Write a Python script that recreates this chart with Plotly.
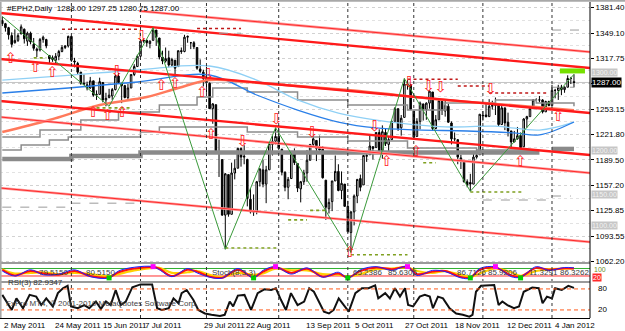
import plotly.graph_objects as go
import pandas as pd

# ---------------- data ----------------
DATES = [d for d in pd.bdate_range("2011-05-02", "2012-01-12") if d != pd.Timestamp("2012-01-02")]

OPEN = [
    1365,1361,1356,1346,1337,1340,1348,1354,1339,1349,1335,1327,1328,1341,1341,1321,1318,1315,1320,1326,1331,1333,  # May
    1345,1314,1311,1300,1286,1284,1280,1289,1271,1272,1287,1265,1268,1270,1278,1295,1286,1283,1268,1280,1297,1307,  # Jun
    1320,1339,1340,1336,1340,1353,1343,1319,1314,1318,1309,1315,1307,1327,1326,1344,1337,1337,1331,1304,1300,       # Jul
    1292,1286,1254,1259,1200,1190,1120,1171,1121,1173,1179,1204,1193,1190,1140,1124,1124,1162,1177,1159,1177,1209,1213,  # Aug
    1219,1203,1174,1155,1166,1197,1185,1153,1162,1173,1189,1209,1214,1204,1203,1164,1128,1137,1163,1175,1151,1159,  # Sep
    1131,1098,1124,1144,1166,1158,1194,1196,1206,1205,1224,1200,1224,1209,1215,1238,1254,1230,1243,1284,1284,       # Oct
    1251,1219,1238,1260,1253,1261,1275,1229,1240,1263,1251,1257,1236,1216,1215,1192,1187,1162,1161,1159,1193,1196,  # Nov
    1246,1246,1244,1257,1258,1260,1234,1255,1237,1226,1212,1216,1220,1206,1241,1244,1254,1265,1265,1265,1250,1263,  # Dec
    1258,1277,1277,1281,1278,1281,1292,1288.00]                                                                     # Jan
HIGH = [
    1370,1362,1357,1350,1354,1349,1360,1355,1351,1351,1343,1331,1343,1346,1342,1321,1321,1324,1328,1334,1334,1346,
    1346,1318,1313,1300,1297,1288,1294,1289,1277,1293,1287,1274,1279,1280,1297,1299,1286,1284,1285,1297,1310,1322,
    1341,1342,1341,1340,1356,1353,1343,1327,1331,1327,1318,1315,1327,1331,1347,1346,1338,1339,1331,1316,1303,
    1307,1287,1261,1259,1215,1190,1173,1171,1186,1190,1205,1205,1208,1191,1154,1146,1163,1179,1190,1182,1211,1220,1230,
    1230,1203,1175,1168,1198,1204,1185,1163,1177,1202,1209,1220,1214,1220,1207,1164,1141,1163,1195,1184,1175,1159,
    1138,1125,1146,1165,1171,1195,1200,1220,1207,1224,1228,1233,1229,1219,1239,1256,1254,1246,1292,1290,1284,
    1251,1242,1263,1260,1262,1277,1275,1246,1267,1264,1264,1260,1238,1224,1215,1196,1187,1165,1172,1197,1203,1247,
    1251,1261,1266,1264,1268,1260,1258,1255,1249,1226,1226,1231,1224,1242,1245,1256,1266,1267,1270,1266,1264,1264,
    1284,1279,1284,1284,1282,1296,1294,1297.25]
LOW = [
    1358,1351,1341,1331,1336,1338,1348,1336,1333,1335,1327,1319,1326,1337,1330,1311,1313,1310,1315,1325,1329,1331,
    1313,1306,1297,1284,1284,1277,1279,1269,1265,1272,1262,1257,1267,1265,1277,1287,1261,1267,1265,1280,1295,1307,
    1318,1337,1332,1330,1340,1333,1316,1310,1312,1306,1307,1295,1307,1323,1325,1337,1329,1329,1303,1299,1282,
    1274,1254,1235,1199,1168,1119,1077,1118,1121,1165,1179,1181,1184,1131,1122,1119,1121,1156,1155,1135,1177,1195,1209,
    1203,1170,1150,1140,1166,1183,1149,1136,1158,1162,1189,1207,1188,1201,1166,1114,1122,1125,1163,1150,1140,1131,
    1098,1073,1107,1135,1150,1158,1187,1196,1190,1205,1198,1191,1207,1197,1215,1238,1226,1220,1243,1278,1253,
    1215,1219,1228,1239,1240,1254,1226,1228,1240,1246,1244,1236,1209,1213,1184,1178,1161,1155,1150,1159,1191,1196,
    1239,1243,1244,1253,1246,1231,1234,1227,1219,1205,1212,1215,1203,1206,1230,1244,1254,1263,1262,1248,1250,1257,
    1258,1267,1265,1271,1274,1281,1285,1280.75]
CLOSE = [
    1361,1356,1347,1335,1340,1346,1357,1342,1349,1338,1330,1329,1341,1344,1333,1317,1316,1320,1326,1331,1333,1345,
    1315,1313,1300,1286,1285,1280,1289,1271,1272,1288,1265,1267,1271,1278,1295,1287,1283,1268,1280,1297,1307,1320,
    1339,1340,1337,1339,1353,1344,1319,1314,1317,1309,1316,1305,1327,1326,1344,1345,1337,1332,1305,1301,1292,
    1287,1254,1260,1200,1199,1120,1172,1121,1173,1179,1204,1193,1194,1141,1124,1124,1162,1178,1159,1177,1210,1213,1219,
    1204,1174,1155,1165,1198,1186,1154,1162,1173,1189,1209,1216,1204,1202,1167,1130,1136,1163,1175,1151,1160,1131,
    1099,1124,1144,1165,1155,1195,1195,1207,1204,1224,1201,1225,1210,1215,1238,1254,1229,1242,1285,1285,1253,
    1218,1238,1261,1253,1261,1276,1229,1240,1264,1252,1258,1237,1216,1216,1193,1188,1162,1158,1159,1193,1195,1247,
    1245,1244,1257,1258,1261,1234,1255,1236,1226,1212,1216,1220,1205,1241,1244,1254,1265,1265,1265,1250,1263,1258,
    1277,1277,1281,1278,1281,1292,1292,1287.00]
BARS = list(range(len(DATES)))

# price scale labels
PRICE_TICKS = [1381.40, 1349.10, 1317.75, 1285.45, 1253.15, 1221.80, 1189.50, 1157.20, 1125.85, 1093.55, 1062.20]
BOXED_LEVELS = [1300.00, 1200.00, 1150.00, 1100.00]
BOXED_SHIFT = [0, 1, -3, 5]   # small pixel nudges so the boxes do not sit on the scale labels

# date labels (bar position of the label's left edge)
DATE_LABELS = ["2 May 2011", "24 May 2011", "15 Jun 2011", "7 Jul 2011", "29 Jul 2011", "22 Aug 2011",
               "13 Sep 2011", "5 Oct 2011", "27 Oct 2011", "18 Nov 2011", "12 Dec 2011", "4 Jan 2012"]
DATE_LABEL_POS = [-0.1, 16, 31.5, 44.7, 63.7, 76.9, 95.9, 111.7, 127.7, 143.5, 159.9, 175.4]

# trend lines (bar, price) -> (bar, price)
TL_X0 = [-0.7, 43.5, -0.7, -0.7, -0.7, -0.7]
TL_P0 = [1374.5, 1377.0, 1316.6, 1263.7, 1243.5, 1154.1]
TL_X1 = [187.1, 187.1, 187.1, 187.1, 187.1, 187.1]
TL_P1 = [1305.2, 1325.4, 1248.6, 1195.7, 1173.0, 1086.1]
TL_STYLE = ["thick", "thin", "thick", "thick", "thin", "thin"]

# moving averages
ORANGE_X = [0, 15, 31, 46, 56, 66, 78, 94, 110, 126, 141, 157, 170, 182]
ORANGE_P = [1224.6, 1239.7, 1258.6, 1268.7, 1280.0, 1290.1, 1287.6, 1282.5, 1277.5, 1271.0, 1265.0, 1260.0, 1256.0, 1252.0]
BLUE_X = [0, 21, 43, 66, 81, 94, 107, 119, 132, 148, 163, 171, 182]
BLUE_P = [1273.7, 1280.0, 1287.6, 1296.4, 1271.2, 1252.3, 1237.2, 1229.7, 1227.2, 1225.9, 1223.4, 1220.9, 1237.2]
LBLUE_X = [0, 21, 43, 66, 81, 94, 107, 126, 141, 157, 171, 182]
LBLUE_P = [1290.0, 1296.0, 1302.7, 1307.7, 1290.0, 1265.0, 1248.5, 1236.0, 1231.0, 1232.0, 1227.0, 1237.0]
G1_X = [0, 12, 25, 37, 50, 62, 67, 78, 94, 110, 129, 141, 157, 170, 182]
G1_P = [1218.2, 1227.0, 1239.7, 1249.8, 1258.6, 1268.7, 1280.0, 1275.0, 1265.0, 1258.6, 1252.3, 1261.1, 1265.0, 1261.1, 1257.0]
G2_X = [0, 6, 15, 21, 44, 50, 66, 78, 94, 110, 129, 151, 170]
G2_P = [1202.0, 1208.3, 1214.6, 1218.3, 1224.6, 1231.0, 1231.0, 1224.6, 1218.3, 1213.3, 1204.5, 1202.0, 1202.0]
THICK_X = [0, 22, 44, 171, None, 175, 182]
THICK_P = [1190.6, 1194.4, 1198.8, 1198.8, None, 1203.3, 1203.3]

# horizontal level segments
LV_X0 = [19, 62, 129, 145, 155, 175, 0, 22, 153, 175, 69, 175, 71, 91, 98, 111, 149, 134, 30, 10, 177.5]
LV_X1 = [44, 76, 145, 155, 174, 186, 22, 44, 175, 181, 76, 182, 88, 97, 103, 129, 166, 138, 41, 14, 185.5]
LV_P = [1354, 1355, 1291, 1282.5, 1273.7, 1353, 1130, 1135, 1139, 1144, 1349, 1281,
        1078.5, 1114, 1126, 1070, 1149, 1186, 1255, 1318, 1301.5]
LV_KIND = ["red"] * 5 + ["gray"] * 7 + ["green"] * 8 + ["lime"]

# fractal arrows
UP_X = [2.7, 10.6, 16, 29.0, 33.6, 38.2, 50.7, 55.1, 63.7, 66.5, 110.7, 122.4, 131.8, 165, 177]
UP_P = [1316.6, 1305.2, 1298.9, 1248.6, 1244.8, 1248.6, 1282.5, 1285.1, 1273.7, 1220.9, 1072.3, 1186.9, 1199.5, 1186.9, 1243.6]
DN_X = [36.5, 44.4, 65.6, 76.6, 87.3, 98.7, 118.6, 129.6, 135.8, 139.6, 155.5]
DN_P = [1300.2, 1344.3, 1296.4, 1212, 1239.7, 1223.4, 1231, 1286.3, 1281.3, 1280, 1277.5]

# zigzag pivots
ZZ_X = [0, 34, 48, 71, 87, 111, 128, 149, 182]
ZZ_P = [1370, 1257, 1356, 1077, 1230, 1073, 1292, 1150, 1297.25]

# stochastic panel
ST_X = [0, 4, 9, 13, 18, 23, 28, 34, 37, 42, 48, 50, 54, 59, 62, 66, 70, 75, 80, 83, 87, 92, 97, 102, 107, 110,
        114, 119, 124, 129, 132, 137, 141, 146, 149, 152, 157, 162, 165, 170, 174, 179, 182]
ST_RED = [70, 25, 60, 40, 30, 60, 20, 10, 50, 80, 92, 78, 20, 70, 55, 15, 5, 70, 12, 55, 90, 45, 78, 15, 40, 8,
          60, 88, 75, 93, 35, 55, 60, 12, 8, 70, 88, 25, 15, 85, 70, 82, 80]
ST_YEL = [75, 40, 45, 50, 35, 45, 35, 18, 35, 65, 85, 85, 45, 50, 60, 30, 12, 45, 30, 40, 78, 65, 65, 35, 30, 15,
          35, 75, 80, 88, 60, 45, 58, 30, 12, 40, 80, 50, 22, 60, 75, 78, 80]
ST_BLUE = [60, 20, 70, 30, 35, 70, 15, 5, 60, 90, 95, 70, 15, 80, 45, 10, 3, 80, 5, 65, 95, 35, 85, 10, 50, 3,
           70, 95, 65, 97, 25, 65, 55, 5, 3, 80, 92, 15, 10, 95, 65, 88, 85]
ST_MAG_X = [48, 87, 129, 157]
ST_GRN_X = [34, 80, 110, 149, 165]
ST_TEXT_X = [11, 26, 66, 111, 122, 144, 154, 167, 177]
ST_TEXT = ["79.5150", "80.5150", "Stoch(8,3,3)", "65.2386", "85.6305", "86.7126", "85.9206", "11.3291", "86.3262"]

# RSI(3)
RSI_X = [0, 3, 4.5, 6.6, 8.7, 10.8, 12.4, 14, 16.1, 17.7, 19.3, 20.8, 21.9, 24, 26.1, 27.7, 29.8, 31.4, 33, 34.5,
         36.1, 37.7, 39.3, 41.4, 44, 47.7, 49.3, 50.8, 53, 54.5, 56.1, 57.1, 58.7, 60.8, 62.4, 64.5, 66.6, 69.3,
         70.8, 72.4, 73.5, 75, 77.1, 79.2, 81.3, 83.4, 85.6, 87.1, 88.7, 90.3, 91.9, 94, 96.1, 97.7, 99.2,
         100.3, 102.4, 104, 105.5, 107.1, 108.7, 110.3, 112.4, 114.5, 116.6, 118.7, 119.7, 121.9, 123.4, 125,
         126.6, 128.2, 129.2, 130.8, 132.9, 134.5, 136.1, 137.1, 138.7, 140.3, 142.4, 144.5, 146.6, 148.7, 149.7,
         150.8, 152.4, 154.5, 156.6, 158, 159.2, 160.8, 162.9, 164.5, 166, 168.7, 170.8, 172, 173.4, 175, 176,
         178.1, 180.2, 182]
RSI_V = [63, 20, 53, 25, 63, 58, 34, 53, 30, 68, 82, 89, 30, 25, 34, 25, 44, 23, 44, 34,
         77, 34, 44, 85, 93, 93, 25, 20, 25, 53, 39, 68, 77, 49, 20, 10, 6, 3,
         6, 44, 30, 61, 63, 20, 68, 79, 77, 82, 49, 20, 68, 34, 44, 82, 72,
         53, 15, 10, 20, 53, 34, 15, 68, 82, 82, 90, 53, 68, 53, 82,
         58, 82, 34, 30, 58, 63, 58, 25, 58, 53, 25, 10, 6, 1, 6,
         72, 89, 90, 91, 34, 44, 34, 25, 30, 72, 84, 82, 39, 58, 53, 82,
         77, 89, 83]
RSI_LEVELS = [80, 20]
RSI_LAST = 82.9347

TITLE = "#EPH2,Daily  %.2f %.2f %.2f %.2f" % (OPEN[-1], HIGH[-1], LOW[-1], CLOSE[-1])
COPYRIGHT = "FxPro MT4, © 2001-2010 MetaQuotes Software Corp."

# ---------------- figure ----------------
FONT = "Liberation Sans, Arial, sans-serif"
fig = go.Figure()

fig.add_trace(go.Candlestick(
    x=BARS, open=OPEN, high=HIGH, low=LOW, close=CLOSE,
    increasing=dict(line=dict(color="black", width=1), fillcolor="white"),
    decreasing=dict(line=dict(color="black", width=1), fillcolor="black"),
    whiskerwidth=0, hoverinfo="skip", xaxis="x", yaxis="y"))

def line(x, y, color, width, shape="linear", dash="solid", yaxis="y"):
    fig.add_trace(go.Scatter(x=x, y=y, mode="lines", hoverinfo="skip", connectgaps=False,
                             line=dict(color=color, width=width, shape=shape, dash=dash),
                             xaxis="x", yaxis=yaxis))

# moving averages
line(G2_X, G2_P, "#8c8c8c", 1.5, "hv")
line(G1_X, G1_P, "#8c8c8c", 1.5, "hv")
line(THICK_X, THICK_P, "#8a8a8a", 4.5, "hv")
line(LBLUE_X, LBLUE_P, "#8fd0f5", 1.3, "spline")
line(BLUE_X, BLUE_P, "#2a7fe8", 1.3, "spline")
line(ORANGE_X, ORANGE_P, "#ff7a5c", 2.5, "spline")

# trend lines
for x0, p0, x1, p1, st in zip(TL_X0, TL_P0, TL_X1, TL_P1, TL_STYLE):
    if st == "thick":
        line([x0, x1], [p0, p1], "#ff1a1a", 2.4)
    else:
        line([x0, x1], [p0, p1], "#ff9a9a", 2.6)
        line([x0, x1], [p0, p1], "#ff2a2a", 1.0)

# levels
LV_STYLE = {"red": ("#c01818", 1.6, "dot"), "gray": ("#9a9a9a", 1.0, "dash"),
            "green": ("#7fa020", 1.6, "dot"), "lime": ("#76e000", 5, "solid")}
for x0, x1, p, k in zip(LV_X0, LV_X1, LV_P, LV_KIND):
    c, w, d = LV_STYLE[k]
    line([x0, x1], [p, p], c, w, dash=d)

# zigzag
line(ZZ_X, ZZ_P, "#3a9a3a", 1.0)

# fractal arrows
fig.add_trace(go.Scatter(x=UP_X, y=UP_P, mode="text", text=["⇧"] * len(UP_X), hoverinfo="skip",
                         textfont=dict(color="#ff2020", size=15, family="DejaVu Sans"), xaxis="x", yaxis="y"))
fig.add_trace(go.Scatter(x=DN_X, y=DN_P, mode="text", text=["⇩"] * len(DN_X), hoverinfo="skip",
                         textfont=dict(color="#ff2020", size=15, family="DejaVu Sans"), xaxis="x", yaxis="y"))

# stochastic panel
line([-1, 188], [80, 80], "#30b030", 1, yaxis="y2")
line([-1, 188], [20, 20], "#ff3030", 1, yaxis="y2")
line(ST_X, ST_YEL, "#ffd000", 2.2, "spline", yaxis="y2")
line(ST_X, ST_RED, "#ff1010", 2.0, "spline", yaxis="y2")
line(ST_X, ST_BLUE, "#2020ff", 1.0, "spline", yaxis="y2")
fig.add_trace(go.Scatter(x=ST_MAG_X, y=[95] * len(ST_MAG_X), mode="markers", hoverinfo="skip",
                         marker=dict(symbol="square", size=5, color="#ff00ff"), xaxis="x", yaxis="y2"))
fig.add_trace(go.Scatter(x=ST_GRN_X, y=[5] * len(ST_GRN_X), mode="markers", hoverinfo="skip",
                         marker=dict(symbol="square", size=5, color="#00d000"), xaxis="x", yaxis="y2"))

# RSI panel
line(RSI_X, RSI_V, "#111111", 2.0, yaxis="y3")

shapes = []
for lv in RSI_LEVELS:
    shapes.append(dict(type="line", xref="paper", yref="y3", x0=0, x1=1, y0=lv, y1=lv,
                       line=dict(color="#ff5a1a", width=1, dash="4px,3px")))
# bid line
shapes.append(dict(type="line", xref="paper", yref="y", x0=0, x1=1, y0=CLOSE[-1], y1=CLOSE[-1],
                   line=dict(color="#c4c4c4", width=1), layer="below"))
# period separators (month starts)
for i in range(1, len(DATES)):
    if DATES[i].month != DATES[i - 1].month:
        shapes.append(dict(type="line", xref="x", yref="paper", x0=i, x1=i, y0=0, y1=1,
                           line=dict(color="#333333", width=1, dash="3px,3px")))
# panel separators and frame
for yy in [0.1741, 0.1139]:
    shapes.append(dict(type="line", xref="paper", yref="paper", x0=0, x1=1, y0=yy, y1=yy,
                       line=dict(color="#9a9a9a", width=2)))
shapes.append(dict(type="line", xref="paper", yref="paper", x0=1, x1=1, y0=0, y1=1,
                   line=dict(color="black", width=1)))
shapes.append(dict(type="line", xref="paper", yref="paper", x0=0, x1=1.06, y0=1.004, y1=1.004,
                   line=dict(color="#a8a8a8", width=2)))
shapes.append(dict(type="line", xref="paper", yref="paper", x0=0.001, x1=0.001, y0=0, y1=1,
                   line=dict(color="#a8a8a8", width=2)))

ann = []
ann.append(dict(text=TITLE, xref="paper", yref="paper", x=0.008, y=0.999, xanchor="left", yanchor="top",
                showarrow=False, font=dict(size=8, color="black", family=FONT)))
for lab, pos in zip(DATE_LABELS, DATE_LABEL_POS):
    ann.append(dict(text=lab, xref="x", yref="paper", x=pos, y=-0.004, xanchor="left", yanchor="top",
                    showarrow=False, font=dict(size=8, color="black", family=FONT)))
for lv, sh in zip(BOXED_LEVELS, BOXED_SHIFT):
    ann.append(dict(text="%.2f" % lv, xref="paper", yref="y", x=1, y=lv, xanchor="left", xshift=1, yshift=sh,
                    showarrow=False, bgcolor="#c6c6c6", borderpad=0,
                    font=dict(size=7, color="#f2f2f2", family=FONT)))
ann.append(dict(text="%.2f" % CLOSE[-1], xref="paper", yref="y", x=1, y=CLOSE[-1], xanchor="left", xshift=1,
                showarrow=False, bgcolor="black", borderpad=0, font=dict(size=8, color="white", family=FONT)))
for tx, t in zip(ST_TEXT_X, ST_TEXT):
    ann.append(dict(text=t, xref="x", yref="y2", x=tx, y=48, xanchor="left", showarrow=False,
                    font=dict(size=8, color="#3a3a3a", family=FONT)))
ann.append(dict(text="100", xref="paper", yref="y2", x=1, y=72, xanchor="left", xshift=2, showarrow=False,
                font=dict(size=7, color="#6b8e23", family=FONT)))
ann.append(dict(text="20", xref="paper", yref="y2", x=1, y=10, xanchor="left", xshift=2, showarrow=False,
                bgcolor="#ff2a2a", borderpad=0, font=dict(size=7, color="white", family=FONT)))
for lv in RSI_LEVELS:
    ann.append(dict(text=str(lv), xref="paper", yref="y3", x=1, y=lv, xanchor="left", xshift=6, showarrow=False,
                    font=dict(size=8, color="black", family=FONT)))
ann.append(dict(text="RSI(3) %.4f" % RSI_LAST, xref="paper", yref="paper", x=0.01, y=0.092, xanchor="left",
                showarrow=False, font=dict(size=8, color="#333333", family=FONT)))
ann.append(dict(text=COPYRIGHT, xref="paper", yref="paper", x=0.006, y=0.024, xanchor="left",
                showarrow=False, font=dict(size=8, color="#444444", family=FONT)))

minor_vals = [(a + b) / 2 for a, b in zip(PRICE_TICKS[:-1], PRICE_TICKS[1:])]
ticktext = ["%.2f" % v if abs(v - CLOSE[-1]) > 3 else "" for v in PRICE_TICKS]

fig.update_layout(
    width=625, height=331, margin=dict(l=0, r=30, t=2, b=13),
    paper_bgcolor="white", plot_bgcolor="white", showlegend=False, hovermode=False,
    font=dict(family=FONT, size=8, color="black"),
    xaxis=dict(range=[-0.73, 187.1], showticklabels=False, showgrid=False, zeroline=False,
               showline=True, linecolor="black", linewidth=1, anchor="y3", rangeslider=dict(visible=False),
               fixedrange=True),
    yaxis=dict(domain=[0.1772, 1], range=[1060.94, 1388.3], side="right", tickmode="array",
               tickvals=PRICE_TICKS, ticktext=ticktext, ticks="outside", ticklen=3, tickcolor="black",
               tickfont=dict(size=8, family=FONT, color="black"),
               showgrid=True, gridcolor="#d2d2d2", griddash="dot", gridwidth=1, zeroline=False,
               showline=False, anchor="x",
               minor=dict(tickmode="array", tickvals=minor_vals, showgrid=True, gridcolor="#e2e2e2",
                          griddash="dot", ticks="")),
    yaxis2=dict(domain=[0.1171, 0.1709], range=[-20, 116], showticklabels=False, showgrid=False,
                zeroline=False, anchor="x", side="right"),
    yaxis3=dict(domain=[0, 0.1108], range=[-3, 97], showticklabels=False, showgrid=False,
                zeroline=False, anchor="x", side="right"),
    shapes=shapes, annotations=ann,
)

fig.write_html("out.html")
